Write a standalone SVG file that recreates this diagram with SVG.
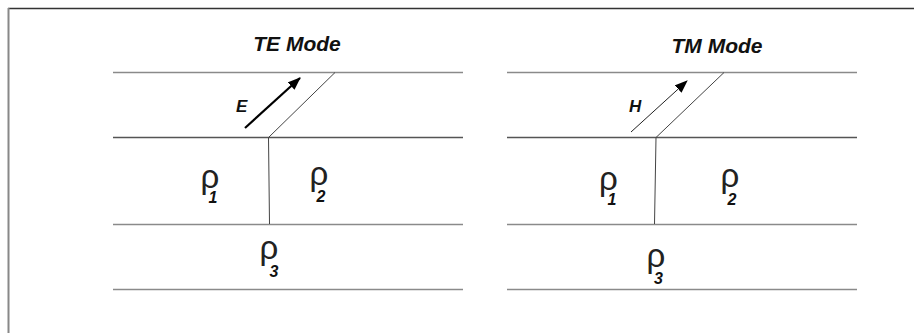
<svg xmlns="http://www.w3.org/2000/svg" width="914" height="333" viewBox="0 0 914 333">
  <style>
    .bg { fill: #ffffff; }
    .layer { stroke: #8a8a8a; stroke-width: 1.6; fill: none; }
    .layer-dark { stroke: #555555; stroke-width: 1.6; fill: none; }
    .thin { stroke: #444444; stroke-width: 1; fill: none; }
    .title { font-family: "Liberation Sans", Arial, sans-serif; font-weight: bold; font-style: italic; font-size: 21px; fill: #111111; text-anchor: middle; }
    .lbl { font-family: "Liberation Sans", Arial, sans-serif; font-weight: bold; font-style: italic; font-size: 17px; fill: #111111; }
    .rho { font-family: "Liberation Sans", Arial, sans-serif; font-size: 33px; fill: #222222; text-anchor: middle; }
    .sub { font-family: "Liberation Sans", Arial, sans-serif; font-weight: bold; font-style: italic; font-size: 16px; fill: #111111; text-anchor: middle; }
  </style>
  <defs>
    <marker id="head" markerUnits="userSpaceOnUse" markerWidth="13" markerHeight="10" refX="12" refY="5" orient="auto">
      <path d="M0,0 L13,5 L0,10 z" fill="#000000"/>
    </marker>
  </defs>
  <rect class="bg" x="0" y="0" width="914" height="333"/>
  <g id="frame">
    <line x1="8" y1="8.5" x2="914" y2="8.5" stroke="#333333" stroke-width="1.5"/>
    <line x1="8.5" y1="8" x2="8.5" y2="333" stroke="#888888" stroke-width="2"/>
  </g>

  <g id="te-panel">
    <text class="title" x="297" y="51">TE Mode</text>
    <line class="layer" x1="113" y1="72.5" x2="463" y2="72.5"/>
    <line class="layer-dark" x1="113" y1="137.5" x2="463" y2="137.5"/>
    <line class="layer" x1="113" y1="224.5" x2="463" y2="224.5"/>
    <line class="layer" x1="113" y1="289.5" x2="463" y2="289.5"/>
    <line class="thin" x1="268.5" y1="137.5" x2="335" y2="72.5"/>
    <line class="thin" x1="268.5" y1="137.5" x2="269.5" y2="224"/>
    <text class="lbl" x="236" y="112">E</text>
    <text class="rho" x="210" y="188">ρ</text>
    <text class="sub" x="213" y="203">1</text>
    <text class="rho" x="319" y="185">ρ</text>
    <text class="sub" x="321" y="202">2</text>
    <text class="rho" x="269" y="259">ρ</text>
    <text class="sub" x="274" y="277">3</text>
  </g>

  <g id="tm-panel">
    <text class="title" x="717" y="53">TM Mode</text>
    <line class="layer" x1="507" y1="72.5" x2="857" y2="72.5"/>
    <line class="layer-dark" x1="507" y1="137.5" x2="857" y2="137.5"/>
    <line class="layer" x1="507" y1="224.5" x2="857" y2="224.5"/>
    <line class="layer" x1="507" y1="289.5" x2="857" y2="289.5"/>
    <line class="thin" x1="656" y1="137.5" x2="724" y2="72.5"/>
    <line class="thin" x1="656" y1="137.5" x2="654.5" y2="224"/>
    <text class="lbl" x="629" y="112">H</text>
    <text class="rho" x="608.5" y="190">ρ</text>
    <text class="sub" x="612" y="205">1</text>
    <text class="rho" x="730" y="187">ρ</text>
    <text class="sub" x="732" y="205">2</text>
    <text class="rho" x="656" y="267">ρ</text>
    <text class="sub" x="658.5" y="284">3</text>
  </g>

  <g id="connectors">
    <line x1="245" y1="128" x2="300" y2="78" stroke="#000000" stroke-width="2.2" marker-end="url(#head)"/>
    <line x1="631" y1="132" x2="687" y2="81" stroke="#222222" stroke-width="1" marker-end="url(#head)"/>
  </g>
</svg>
